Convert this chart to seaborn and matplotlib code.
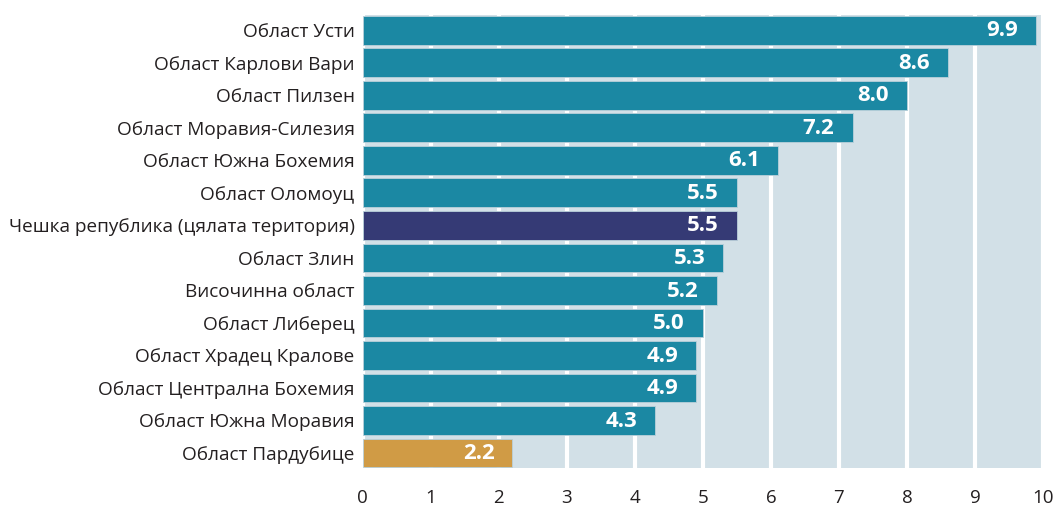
import matplotlib
matplotlib.use('Agg')
import matplotlib.pyplot as plt
import seaborn as sns

regions = ['Област Усти', 'Област Карлови Вари', 'Област Пилзен', 'Област Моравия-Силезия',
           'Област Южна Бохемия', 'Област Оломоуц', 'Чешка република (цялата територия)',
           'Област Злин', 'Височинна област', 'Област Либерец', 'Област Храдец Кралове',
           'Област Централна Бохемия', 'Област Южна Моравия', 'Област Пардубице']
values = [9.9, 8.6, 8.0, 7.2, 6.1, 5.5, 5.5, 5.3, 5.2, 5.0, 4.9, 4.9, 4.3, 2.2]

teal = '#1b88a3'
colors = [teal] * len(regions)
colors[6] = '#353a75'
colors[13] = '#d09b45'

sns.set_style('white')
plt.rcParams['font.family'] = ['Open Sans', 'DejaVu Sans']

fig = plt.figure(figsize=(10.61, 5.08), dpi=100)
ax = fig.add_axes([0.342, 0.079, 0.641, 0.891])

sns.barplot(x=values, y=regions, hue=regions, palette=colors, legend=False,
            orient='h', width=0.88, saturation=1, ax=ax, zorder=2,
            edgecolor='#b9d0da', linewidth=0.6)

for i, v in enumerate(values):
    ax.annotate(f'{v:.1f}', xy=(v, i), xytext=(-13, -0.5), textcoords='offset points',
                ha='right', va='center', color='white', fontsize=16, fontweight='bold')

ax.set_facecolor('#d2e0e7')
ax.set_xlim(0, 10)
ax.set_ylim(13.46, -0.46)
ax.set_xticks(range(0, 11))
ax.grid(axis='x', color='white', lw=3)
ax.grid(axis='y', visible=False)
ax.set_axisbelow(True)
for s in ax.spines.values():
    s.set_visible(False)
ax.tick_params(axis='x', length=0, pad=15, labelsize=13.5, labelcolor='#231f20')
ax.tick_params(axis='y', length=0, pad=6, labelsize=13.7, labelcolor='#231f20')
ax.set_xlabel('')
ax.set_ylabel('')

fig.savefig('out.png', dpi=100)
